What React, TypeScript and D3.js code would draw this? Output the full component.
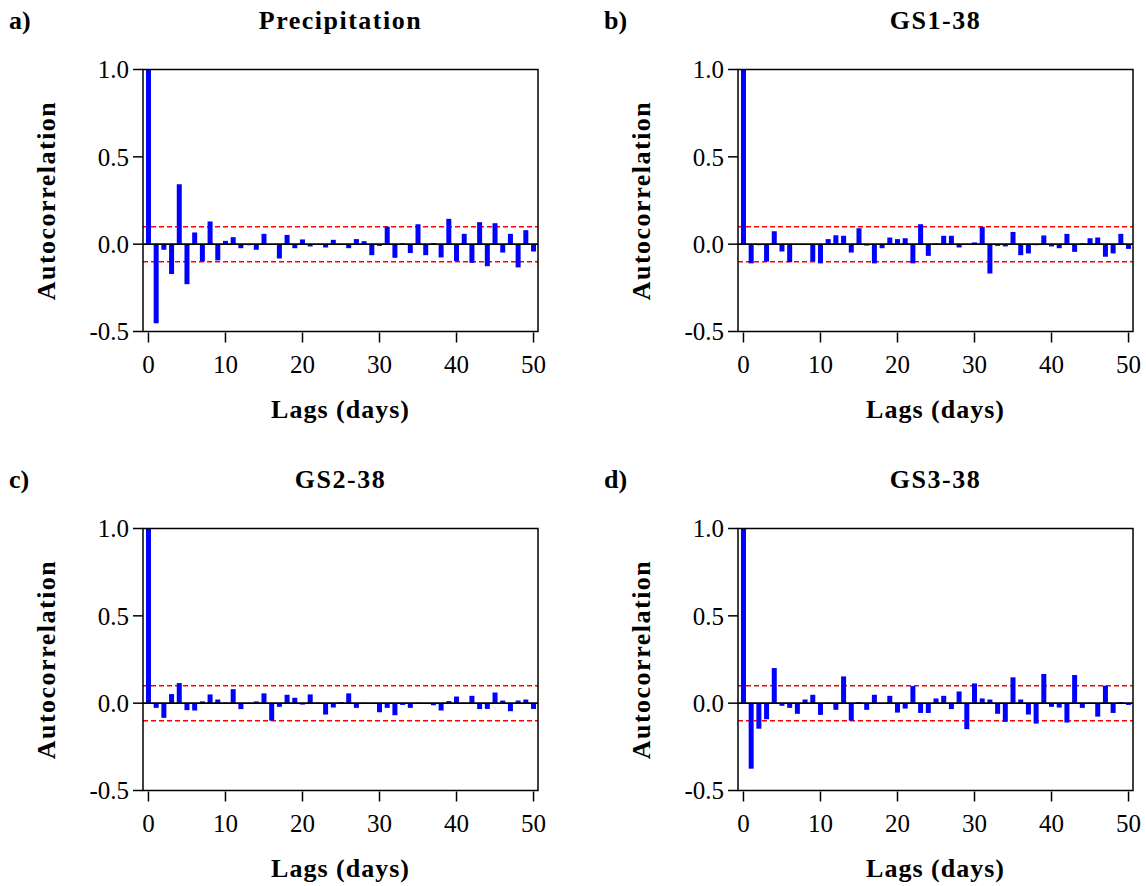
import * as d3 from 'd3';

// autocorrelation values, lag 0..50
const precipitation = [
  1.0, -0.453, -0.032, -0.171, 0.343, -0.229, 0.067, -0.099, 0.13, -0.093,
  0.019, 0.04, -0.023, -0.006, -0.032, 0.059, -0.004, -0.082, 0.053, -0.023,
  0.027, -0.013, -0.003, -0.019, 0.025, -0.004, -0.023, 0.029, 0.017, -0.063,
  -0.01, 0.1, -0.078, 0.005, -0.051, 0.114, -0.063, 0.006, -0.076, 0.145,
  -0.097, 0.059, -0.107, 0.126, -0.126, 0.12, -0.048, 0.059, -0.133, 0.08,
  -0.042,
];

const gs1 = [
  1.0, -0.11, -0.006, -0.1, 0.074, -0.042, -0.103, -0.003, -0.005, -0.099,
  -0.11, 0.029, 0.051, 0.048, -0.048, 0.091, -0.008, -0.11, -0.023, 0.038,
  0.029, 0.034, -0.11, 0.114, -0.067, 0.004, 0.048, 0.048, -0.019, -0.003,
  0.01, 0.099, -0.168, -0.01, -0.013, 0.07, -0.063, -0.053, -0.006, 0.05,
  -0.013, -0.023, 0.059, -0.044, 0.004, 0.034, 0.038, -0.072, -0.053, 0.059,
  -0.027,
];

const gs2 = [
  1.0, -0.027, -0.084, 0.052, 0.115, -0.04, -0.042, 0.01, 0.05, 0.021,
  0.003, 0.08, -0.034, 0.002, 0.01, 0.056, -0.1, -0.021, 0.048, 0.031,
  -0.008, 0.05, 0.003, -0.065, -0.025, 0.006, 0.056, -0.027, 0.002, -0.002,
  -0.052, -0.027, -0.069, -0.01, -0.027, 0.002, -0.002, -0.012, -0.042, 0.012,
  0.038, 0.002, 0.042, -0.034, -0.033, 0.061, 0.015, -0.046, 0.015, 0.021,
  -0.033,
];

const gs3 = [
  1.0, -0.375, -0.146, -0.092, 0.201, -0.015, -0.027, -0.061, 0.021, 0.048,
  -0.067, 0.003, -0.038, 0.153, -0.1, 0.006, -0.038, 0.048, -0.004, 0.042,
  -0.054, -0.031, 0.098, -0.056, -0.056, 0.027, 0.042, -0.034, 0.067, -0.149,
  0.113, 0.027, 0.021, -0.061, -0.107, 0.148, 0.021, -0.065, -0.117, 0.167,
  -0.021, -0.025, -0.111, 0.161, -0.027, 0.003, -0.077, 0.1, -0.056, 0.006,
  -0.01,
];

const panelLabels = ['a)', 'b)', 'c)', 'd)'];
const panelTitles = ['Precipitation', 'GS1-38', 'GS2-38', 'GS3-38'];
const panelSeries = [precipitation, gs1, gs2, gs3];

const xTicks = [0, 10, 20, 30, 40, 50];
const yTicks = [-0.5, 0.0, 0.5, 1.0];
const confLimit = 0.1;

const FONT = '"Liberation Serif", "Times New Roman", serif';
// plain hyphen for negatives, like the original
const fmtY = (t) => d3.format('.1f')(t).replace('\u2212', '-');

function AcfPanel({ label, title, values, ox, oy, id }) {
  const left = 143 + ox;
  const right = 538 + ox;
  const top = 69.5 + oy;
  const bottom = 331.5 + oy;

  const x = d3.scaleLinear().domain([-0.71, 50.58]).range([left, right]);
  const y = d3.scaleLinear().domain([-0.5, 1.0]).range([bottom, top]);
  const barW = 5;
  const cx = (left + right) / 2;
  const cy = (top + bottom) / 2;

  return (
    <g fontFamily={FONT}>
      <text x={ox + 9} y={oy + 29} fontSize={26} fontWeight="bold">
        {label}
      </text>
      <text
        x={cx}
        y={oy + 29}
        fontSize={26}
        fontWeight="bold"
        textAnchor="middle"
        letterSpacing={1.5}
      >
        {title}
      </text>

      <clipPath id={id}>
        <rect x={left} y={top} width={right - left} height={bottom - top} />
      </clipPath>

      <g clipPath={`url(#${id})`}>
        {[confLimit, -confLimit].map((c) => (
          <line
            key={c}
            x1={left}
            x2={right}
            y1={y(c)}
            y2={y(c)}
            stroke="#ff0000"
            strokeWidth={1.5}
            strokeDasharray="5,3"
          />
        ))}
        {values.map((v, lag) => (
          <rect
            key={lag}
            x={x(lag) - barW / 2}
            y={Math.min(y(v), y(0))}
            width={barW}
            height={Math.abs(y(v) - y(0))}
            fill="#0000ff"
          />
        ))}
        <line x1={left} x2={right} y1={y(0)} y2={y(0)} stroke="#000" strokeWidth={1.6} />
      </g>

      <rect
        x={left}
        y={top}
        width={right - left}
        height={bottom - top}
        fill="none"
        stroke="#000"
        strokeWidth={1.5}
      />

      {yTicks.map((t) => (
        <g key={t}>
          <line x1={left - 10} x2={left} y1={y(t)} y2={y(t)} stroke="#000" strokeWidth={1.5} />
          <text x={left - 14} y={y(t)} dy="0.35em" fontSize={25} textAnchor="end">
            {fmtY(t)}
          </text>
        </g>
      ))}

      {xTicks.map((t) => (
        <g key={t}>
          <line x1={x(t)} x2={x(t)} y1={bottom + 1} y2={bottom + 11} stroke="#000" strokeWidth={1.5} />
          <text x={x(t)} y={bottom + 41} fontSize={25} textAnchor="middle">
            {t}
          </text>
        </g>
      ))}

      <text
        x={cx}
        y={bottom + 86}
        fontSize={26}
        fontWeight="bold"
        textAnchor="middle"
        letterSpacing={1}
      >
        Lags (days)
      </text>
      <text
        transform={`translate(${ox + 55},${cy}) rotate(-90)`}
        fontSize={26}
        fontWeight="bold"
        textAnchor="middle"
        letterSpacing={1.5}
      >
        Autocorrelation
      </text>
    </g>
  );
}

export default function App() {
  return (
    <svg
      width={1146}
      height={886}
      style={{ position: 'absolute', left: 0, top: 0, background: '#fff' }}
    >
      <rect width={1146} height={886} fill="#fff" />
      {panelSeries.map((values, i) => (
        <AcfPanel
          key={i}
          id={`clip-${i}`}
          label={panelLabels[i]}
          title={panelTitles[i]}
          values={values}
          ox={(i % 2) * 595}
          oy={Math.floor(i / 2) * 459}
        />
      ))}
    </svg>
  );
}
